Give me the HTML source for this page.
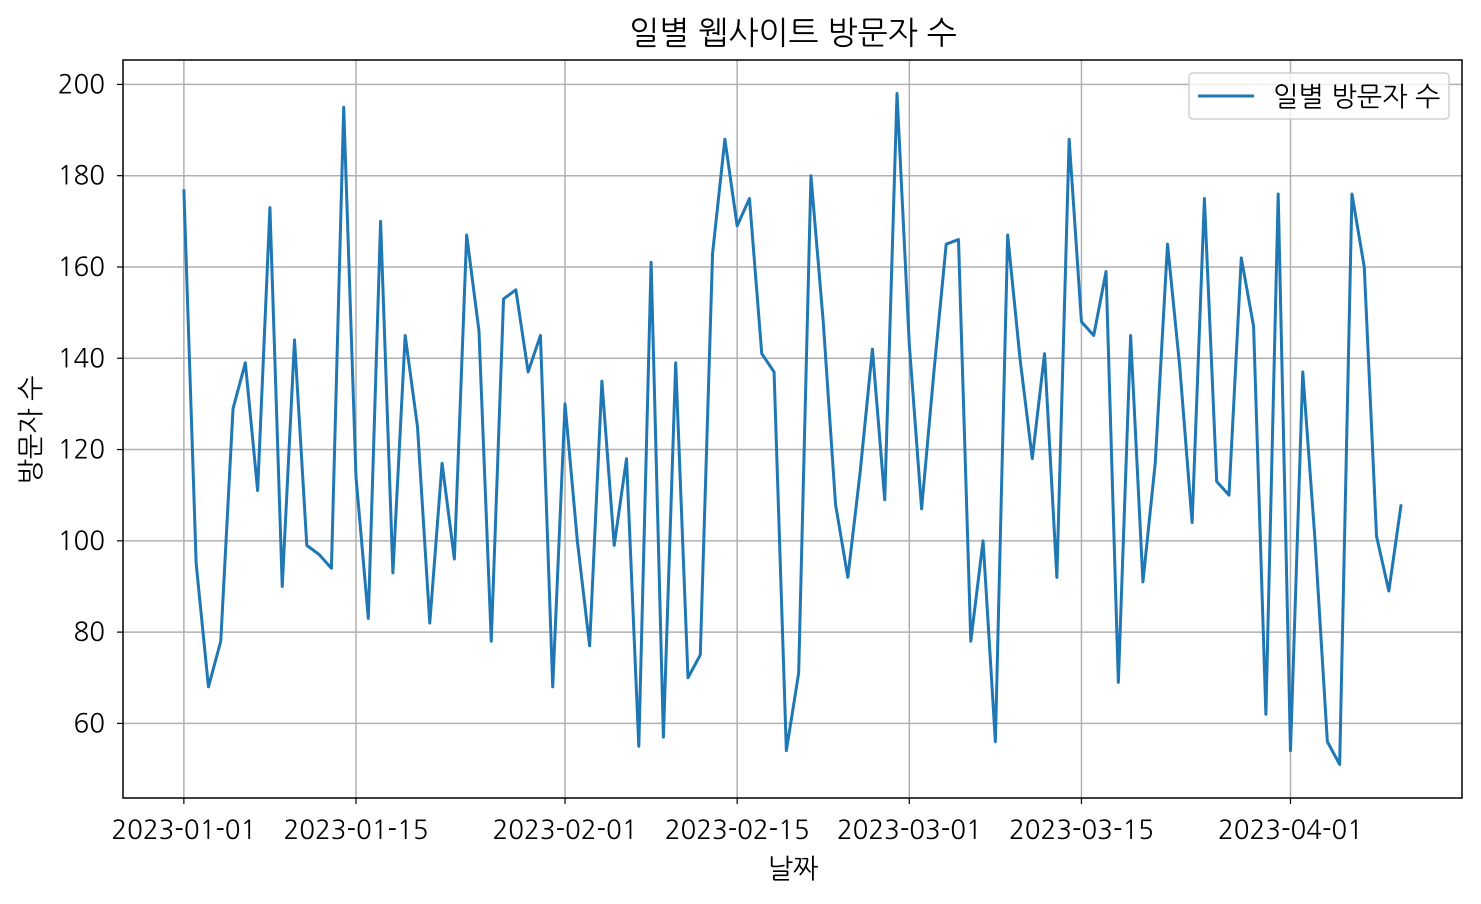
<!DOCTYPE html>
<html><head><meta charset="utf-8"><style>
body{margin:0;background:#fff;}
svg text{font-family:"NanumGothic","Noto Sans CJK KR",sans-serif;fill:#000;}
</style></head><body>
<svg id="chart" width="1481" height="899" xmlns="http://www.w3.org/2000/svg">
<text x="793" y="44" font-size="32" text-anchor="middle">일별 웹사이트 방문자 수</text>
<text x="793" y="878" font-size="27" text-anchor="middle">날짜</text>
<text transform="translate(40,430) rotate(-90)" font-size="27" text-anchor="middle">방문자 수</text>
<g id="grid"></g><g id="series"></g><g id="axes"></g>
</svg>
<script>
const visitors = [177,95,68,78,129,139,111,173,90,144,99,97,94,195,114,83,170,93,145,125,82,117,96,167,146,78,153,155,137,145,68,130,100,77,135,99,118,55,161,57,139,70,75,163,188,169,175,141,137,54,71,180,148,108,92,115,142,109,198,143,107,137,165,166,78,100,56,167,140,118,141,92,188,148,145,159,69,145,91,117,165,138,104,175,113,110,162,147,62,176,54,137,100,56,51,176,160,101,89,108];
const startDate = "2023-01-01";
const xTickLabels = ["2023-01-01","2023-01-15","2023-02-01","2023-02-15","2023-03-01","2023-03-15","2023-04-01"];
const yTicks = [60,80,100,120,140,160,180,200];
const seriesLabel = "일별 방문자 수";

const NS="http://www.w3.org/2000/svg";
const L=123,R=1462,T=60,B=798;
const d0=Date.parse(startDate+"T00:00:00Z");
const dayIdx=s=>(Date.parse(s+"T00:00:00Z")-d0)/86400000;
const n=visitors.length;
const xMin=-(n-1)*0.05, xMax=(n-1)*1.05;
const X=i=>L+(i-xMin)/(xMax-xMin)*(R-L);
const vmin=Math.min(...visitors), vmax=Math.max(...visitors), pad=(vmax-vmin)*0.05;
const yLo=vmin-pad, yHi=vmax+pad;
const Y=v=>B-(v-yLo)/(yHi-yLo)*(B-T);
function mk(tag,attrs,parent){const e=document.createElementNS(NS,tag);for(const k in attrs)e.setAttribute(k,attrs[k]);parent.appendChild(e);return e;}
const grid=document.getElementById('grid'),axes=document.getElementById('axes'),series=document.getElementById('series');
xTickLabels.forEach(s=>{const x=X(dayIdx(s));
 const g=mk('line',{x1:x,x2:x,y1:T,y2:B,stroke:'#b0b0b0','stroke-width':1.5},grid);
 
 
 mk('line',{x1:x,x2:x,y1:B,y2:B+6,stroke:'#000','stroke-width':1.2},axes);
 const t=mk('text',{x:x,y:B+41,'font-size':26,'text-anchor':'middle'},axes);t.textContent=s;
 
 
});
yTicks.forEach(v=>{const y=Y(v);
 const g=mk('line',{x1:L,x2:R,y1:y,y2:y,stroke:'#b0b0b0','stroke-width':1.5},grid);
 
 
 mk('line',{x1:L-6,x2:L,y1:y,y2:y,stroke:'#000','stroke-width':1.2},axes);
 const t=mk('text',{x:L-18,y:y+9,'font-size':26,'text-anchor':'end'},axes);t.textContent=v;
 
 
});
const pts=visitors.map((v,i)=>X(i).toFixed(2)+','+Y(v).toFixed(2)).join(' ');
const line=mk('polyline',{points:pts,fill:'none',stroke:'#1f77b4','stroke-width':3,'stroke-linejoin':'round'},series);


const frame=mk('rect',{x:L,y:T,width:R-L,height:B-T,fill:'none',stroke:'#000','stroke-width':1.5},axes);


const lg=mk('g',{},axes);


mk('rect',{x:1189,y:73,width:260,height:46,rx:4,fill:'rgba(255,255,255,0.8)',stroke:'#d0d0d0','stroke-width':1.5},lg);
mk('line',{x1:1198,x2:1254,y1:96,y2:96,stroke:'#1f77b4','stroke-width':3},lg);
const lt=mk('text',{x:1273,y:106,'font-size':27},lg);lt.textContent=seriesLabel;


</script>
</body></html>
